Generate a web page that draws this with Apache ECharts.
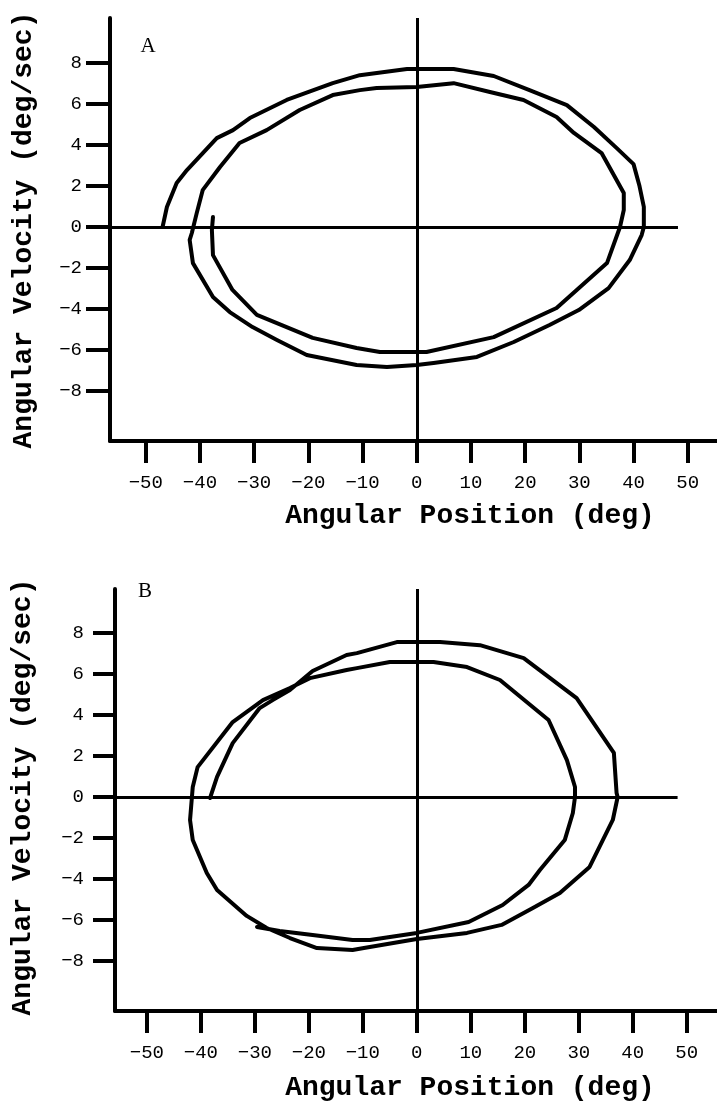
<!DOCTYPE html>
<html><head><meta charset="utf-8">
<script src="https://cdn.jsdelivr.net/npm/echarts@6/dist/echarts.min.js"></script>
<style>html,body{margin:0;padding:0;background:#fff}#c{width:717px;height:1102px}</style>
</head><body><div id="c"></div>
<script>
// Tick values and labels
const xTicks = [-50, -40, -30, -20, -10, 0, 10, 20, 30, 40, 50];
const xTickLabels = ['\u221250', '\u221240', '\u221230', '\u221220', '\u221210', '0', '10', '20', '30', '40', '50'];
const yTicks = [-8, -6, -4, -2, 0, 2, 4, 6, 8];
const yTickLabels = ['\u22128', '\u22126', '\u22124', '\u22122', '0', '2', '4', '6', '8'];

// Panel titles and axis titles
const panelLabels = ['A', 'B'];
const xTitle = 'Angular Position (deg)';
const yTitle = 'Angular Velocity (deg/sec)';

// Axis extents (value space)
const rangeA = { xMin: -56.6, xMax: 55.4, yMin: -10.44, yMax: 10.2 };
const rangeB = { xMin: -55.9, xMax: 55.6, yMin: -10.44, yMax: 10.15 };
const zeroLineEndA = 48.2;
const zeroLineEndB = 48.3;

// Panel A trajectory: [position (deg), velocity (deg/sec)]
const trajectoryA = [
  [-46.9, 0], [-46.1, 0.98], [-44.3, 2.15], [-42.4, 2.78], [-36.9, 4.34], [-33.9, 4.73],
  [-30.8, 5.32], [-24.0, 6.2], [-15.5, 7.02], [-10.5, 7.41], [-1.8, 7.71], [6.8, 7.71],
  [14.2, 7.37], [20.8, 6.68], [27.7, 5.95], [32.7, 4.88], [36.9, 3.85], [40.0, 3.07],
  [41.1, 2.0], [41.9, 0.98], [41.9, 0], [41.5, -0.39], [39.3, -1.61], [35.4, -2.98],
  [29.9, -4.05], [24.5, -4.78], [17.9, -5.61], [11.1, -6.34], [3.1, -6.63], [0, -6.73],
  [-5.5, -6.83], [-11.1, -6.73], [-20.3, -6.24], [-25.8, -5.51], [-30.3, -4.88],
  [-34.5, -4.15], [-37.6, -3.41], [-41.3, -1.76], [-41.9, -0.63], [-41.5, -0.29],
  [-40.6, 0.68], [-39.5, 1.8], [-36.3, 2.93], [-32.7, 4.1], [-27.7, 4.73], [-21.6, 5.71],
  [-15.5, 6.44], [-10.5, 6.68], [-7.4, 6.78], [0, 6.83], [6.8, 7.02], [13.5, 6.59],
  [19.7, 6.2], [25.8, 5.37], [29.0, 4.59], [34.1, 3.61], [38.2, 1.66], [38.2, 0.83],
  [37.5, 0], [35.1, -1.76], [25.8, -3.95], [14.2, -5.37], [1.8, -6.1], [-6.8, -6.1],
  [-11.1, -5.9], [-19.2, -5.41], [-29.5, -4.29], [-34.0, -3.07], [-37.6, -1.37],
  [-37.8, -0.15], [-37.6, 0.49]
];

// Panel B trajectory
const trajectoryB = [
  [-38.3, -0.05], [-37.0, 0.98], [-34.1, 2.63], [-29.1, 4.34], [-26.7, 4.73], [-23.5, 5.22],
  [-19.3, 6.15], [-13.0, 6.93], [-11.1, 7.02], [-3.7, 7.56], [4.3, 7.56], [11.7, 7.41],
  [19.8, 6.78], [29.6, 4.83], [36.5, 2.15], [37.0, 0.2], [37.2, 0], [36.3, -1.12],
  [32.0, -3.41], [26.5, -4.68], [21.5, -5.41], [15.7, -6.24], [9.3, -6.63], [0, -6.93],
  [-9.8, -7.37], [-11.9, -7.46], [-18.5, -7.37], [-23.5, -6.88], [-27.8, -6.39],
  [-31.5, -5.8], [-37.0, -4.54], [-38.9, -3.71], [-41.5, -2.1], [-42.0, -1.12],
  [-41.7, -0.15], [-41.5, 0.49], [-40.6, 1.46], [-34.1, 3.66], [-28.5, 4.73], [-23.5, 5.32],
  [-19.8, 5.8], [-13.0, 6.2], [-11.1, 6.29], [-5.0, 6.59], [3.1, 6.59], [9.3, 6.34],
  [15.4, 5.71], [24.4, 3.76], [27.8, 1.8], [29.3, 0.49], [29.3, 0], [28.9, -0.78],
  [27.4, -2.1], [22.8, -3.56], [20.7, -4.29], [15.9, -5.27], [9.6, -6.1], [0, -6.63],
  [-8.7, -6.98], [-11.9, -6.98], [-19.3, -6.73], [-25.4, -6.54], [-29.6, -6.34]
];

const MONO = '"Liberation Mono", "Courier New", monospace';
const SERIF = '"Liberation Serif", "Times New Roman", serif';

function xAxisDef(gi, r) {
  return {
    gridIndex: gi, type: 'value', min: r.xMin, max: r.xMax,
    axisLine: { onZero: false, lineStyle: { color: '#000', width: 4 } },
    axisTick: { customValues: xTicks, length: 22, lineStyle: { color: '#000', width: 4 } },
    axisLabel: { customValues: xTicks, margin: 32, color: '#000', fontFamily: MONO, fontSize: 19,
      formatter: v => xTickLabels[xTicks.indexOf(v)] },
    splitLine: { show: false }
  };
}
function yAxisDef(gi, r, len, margin) {
  return {
    gridIndex: gi, type: 'value', min: r.yMin, max: r.yMax,
    axisLine: { onZero: false, lineStyle: { color: '#000', width: 4 } },
    axisTick: { customValues: yTicks, length: len, lineStyle: { color: '#000', width: 4 } },
    axisLabel: { customValues: yTicks, margin: margin, color: '#000', fontFamily: MONO, fontSize: 19,
      formatter: v => yTickLabels[yTicks.indexOf(v)] },
    splitLine: { show: false }
  };
}
function seriesDef(gi, data, r, zeroEnd) {
  return {
    type: 'line', xAxisIndex: gi, yAxisIndex: gi, data: data,
    showSymbol: false, symbol: 'none', smooth: false, silent: true,
    lineStyle: { color: '#000', width: 4, join: 'round', cap: 'round' },
    markLine: {
      symbol: ['none', 'none'], silent: true, animation: false, label: { show: false },
      lineStyle: { color: '#000', width: 3, type: 'solid' },
      emphasis: { disabled: true },
      data: [
        { xAxis: 0 },
        [{ coord: [r.xMin, 0] }, { coord: [zeroEnd, 0] }]
      ]
    }
  };
}
function txt(x, y, text, font, rot) {
  return { type: 'text', x: x, y: y, rotation: rot || 0, silent: true,
    style: { text: text, font: font, fill: '#000', textAlign: 'center', textVerticalAlign: 'middle' } };
}

const chart = echarts.init(document.getElementById('c'), null, { renderer: 'canvas' });
chart.setOption({
  animation: false,
  backgroundColor: '#fff',
  grid: [
    { left: 110, top: 18, width: 607, height: 423, outerBoundsMode: 'none' },
    { left: 115, top: 589, width: 602, height: 422, outerBoundsMode: 'none' }
  ],
  xAxis: [xAxisDef(0, rangeA), xAxisDef(1, rangeB)],
  yAxis: [yAxisDef(0, rangeA, 24, 28), yAxisDef(1, rangeB, 22, 31)],
  series: [seriesDef(0, trajectoryA, rangeA, zeroLineEndA), seriesDef(1, trajectoryB, rangeB, zeroLineEndB)],
  graphic: [
    txt(148, 46, panelLabels[0], '21px ' + SERIF),
    txt(145, 591, panelLabels[1], '21px ' + SERIF),
    txt(470, 516, xTitle, 'bold 28px ' + MONO),
    txt(470, 1088, xTitle, 'bold 28px ' + MONO),
    txt(24, 230, yTitle, 'bold 28px ' + MONO, Math.PI / 2),
    txt(23, 797, yTitle, 'bold 28px ' + MONO, Math.PI / 2)
  ]
});
</script></body></html>
